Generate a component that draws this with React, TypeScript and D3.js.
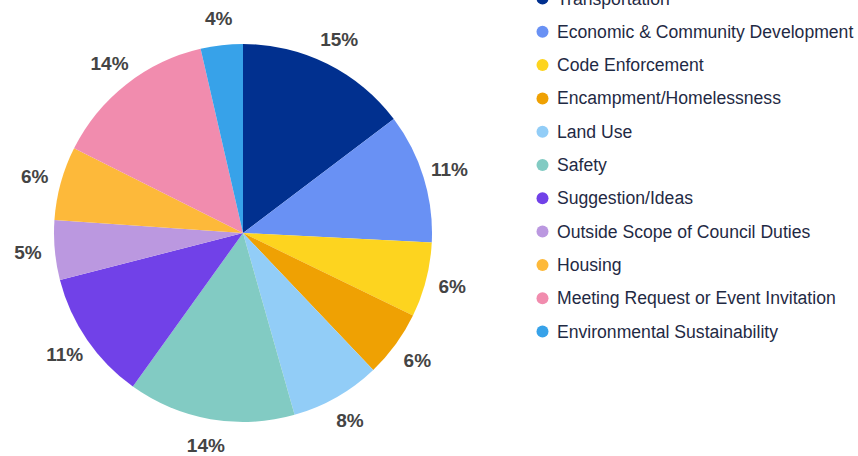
import React from "react";
import * as d3 from "d3";

const categories = [
  "Transportation",
  "Economic & Community Development",
  "Code Enforcement",
  "Encampment/Homelessness",
  "Land Use",
  "Safety",
  "Suggestion/Ideas",
  "Outside Scope of Council Duties",
  "Housing",
  "Meeting Request or Event Invitation",
  "Environmental Sustainability",
];
const values = [14.7, 11.1, 6.4, 5.7, 7.7, 14.3, 11.1, 5.1, 6.3, 14.0, 3.6];
const labels = ["15%", "11%", "6%", "6%", "8%", "14%", "11%", "5%", "6%", "14%", "4%"];
const colors = [
  "#01308f",
  "#6991f4",
  "#fdd41f",
  "#efa103",
  "#92cdf7",
  "#82cbc3",
  "#7141e8",
  "#bb98e0",
  "#fdb93a",
  "#f18cae",
  "#37a2e9",
];

export default function App() {
  const W = 858, H = 456;
  const cx = 243, cy = 233, r = 189, lr = 216;
  const pie = d3.pie<number>().sort(null).value((d) => d);
  const arcs = pie(values);
  const arc = d3.arc<d3.PieArcDatum<number>>().innerRadius(0).outerRadius(r);
  const labelArc = d3.arc<d3.PieArcDatum<number>>().innerRadius(lr).outerRadius(lr);
  const legendY = d3.scaleLinear().domain([0, 1]).range([-1.5, 31.8]);

  return (
    <svg width={W} height={H} style={{ position: "absolute", left: 0, top: 0, background: "#fff" }}>
      <g transform={`translate(${cx},${cy})`}>
        {arcs.map((a, i) => (
          <path key={i} d={arc(a) || ""} fill={colors[i]} />
        ))}
        {arcs.map((a, i) => {
          const [x, y] = labelArc.centroid(a);
          return (
            <text
              key={"l" + i}
              x={x}
              y={y}
              textAnchor="middle"
              dominantBaseline="central"
              fontFamily="Liberation Sans, Arial, sans-serif"
              fontWeight="bold"
              fontSize={19}
              fill="#444"
            >
              {labels[i]}
            </text>
          );
        })}
      </g>
      <g>
        {categories.map((c, i) => (
          <g key={c} transform={`translate(0,${legendY(i)})`}>
            <circle cx={542.5} cy={0} r={6} fill={colors[i]} />
            <text
              x={557}
              y={0}
              dominantBaseline="central"
              fontFamily="Liberation Sans, Arial, sans-serif"
              fontSize={17.6}
              fill="#1f2a44"
            >
              {c}
            </text>
          </g>
        ))}
      </g>
    </svg>
  );
}
